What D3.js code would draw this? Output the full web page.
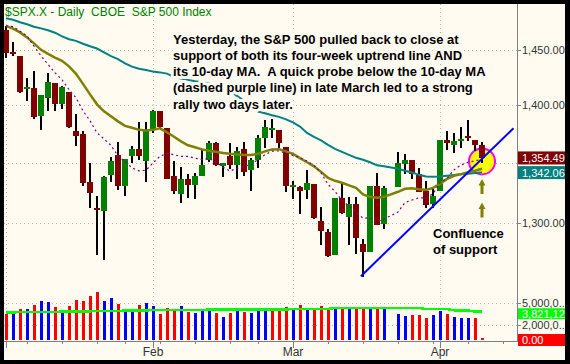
<!DOCTYPE html>
<html><head><meta charset="utf-8">
<script src="https://cdn.jsdelivr.net/npm/d3@7"></script>
<style>body{margin:0;background:#000;} svg{display:block;}</style>
</head><body>
<svg id="c" width="570" height="364"></svg>
<script>
// ---------- DATA ----------
const prevClose = 1468.36;
const opens = [1467.97,1447.55,1444.01,1414.07,1415.71,1390.25,1406.78,1419.91,1401.60,1411.88,
1377.41,1374.79,1333.90,1312.94,1310.41,1340.13,1357.32,1330.70,1355.94,1362.22,
1351.98,1378.60,1395.38,1380.28,1339.48,1324.01,1336.88,1331.92,1339.35,1353.12,
1367.33,1347.52,1355.86,1348.39,1362.21,1344.22,1352.75,1371.76,1378.95,1378.16,
1364.07,1330.45,1329.58,1327.69,1332.20,1301.53,1293.16,1274.40,1321.13,1305.26,
1316.05,1283.21,1277.16,1330.97,1299.67,null,1330.29,1349.07,1352.45,1341.02,
1327.02,1315.92,1326.41,1369.96,1365.69,1369.85,1373.69,1370.16,1365.50];
const highs = [1471.77,1456.80,1444.01,1423.87,1430.28,1409.19,1429.09,1419.91,1417.28,1411.88,
1391.99,1377.72,1350.28,1322.53,1339.09,1355.15,1368.56,1353.97,1364.93,1385.86,
1385.62,1396.02,1395.38,1380.28,1351.96,1347.16,1341.22,1341.40,1362.10,1369.23,
1368.16,1350.00,1367.28,1363.71,1367.94,1354.30,1374.36,1387.34,1388.34,1378.16,
1364.07,1335.13,1331.03,1344.19,1332.20,1313.24,1295.01,1320.65,1333.26,1321.68,
1321.47,1287.50,1330.74,1341.51,1330.67,null,1359.68,1357.47,1352.45,1345.62,
1334.87,1328.52,1370.18,1377.95,1375.66,1380.91,1386.74,1370.16,1368.39];
const lows = [1442.07,1443.73,1411.19,1403.45,1388.30,1378.70,1395.31,1394.83,1397.00,1380.60,
1364.27,1330.67,1312.51,1274.29,1270.05,1334.31,1327.50,1322.26,1350.19,1352.95,
1334.08,1375.93,1379.69,1336.64,1324.34,1316.75,1321.06,1320.32,1339.35,1350.78,
1347.31,1338.13,1345.05,1336.55,1339.34,1327.04,1346.03,1363.29,1372.00,1363.16,
1325.42,1320.04,1307.39,1320.22,1303.42,1282.43,1272.66,1274.40,1307.86,1282.11,
1274.86,1256.98,1277.16,1298.42,1295.22,null,1330.29,1341.21,1336.41,1325.66,
1312.95,1312.81,1326.41,1361.55,1358.68,1362.83,1369.02,1360.62,1349.97];
const closes = [1447.16,1447.16,1411.63,1416.18,1390.19,1409.13,1420.33,1401.02,1416.25,1380.95,
1373.20,1333.25,1325.19,1310.50,1338.60,1352.07,1330.61,1353.96,1362.30,1355.81,
1378.55,1395.42,1380.82,1336.64,1326.45,1336.91,1331.29,1339.13,1348.86,1367.21,
1348.86,1349.99,1348.78,1360.03,1342.53,1353.11,1371.80,1381.29,1380.02,1367.68,
1330.63,1331.34,1326.75,1333.70,1304.34,1293.37,1273.37,1320.65,1308.77,1315.48,
1288.14,1276.60,1330.74,1298.42,1329.51,null,1349.88,1352.99,1341.13,1325.76,
1315.22,1322.70,1370.18,1367.53,1369.31,1370.40,1372.54,1365.54,1354.49];
// volume (millions)
const volumes = [3.5,3.5,4.2,4.2,4.7,5.3,5.1,4.5,3.6,4.6,
5.4,5.3,5.9,6.5,5.3,5.7,4.9,4.1,4.2,4.7,
5.0,4.6,3.5,4.3,4.1,4.6,3.8,3.6,4.1,3.9,
3.6,3.1,3.6,3.9,3.8,3.6,3.9,4.1,3.9,3.9,
4.46,4.19,4.73,4.32,4.32,4.59,4.32,4.32,4.19,4.32,
4.32,4.32,4.32,4.19,4.32,null,3.51,3.24,3.38,3.38,
2.97,3.38,3.92,3.51,3.11,2.97,2.97,2.97,0.27];
const volMA = [3.74,3.74,3.76,3.77,3.78,3.79,3.80,3.81,3.82,3.83,
3.85,3.86,3.88,3.90,3.91,3.93,3.94,3.96,3.97,3.99,
4.00,4.05,4.05,4.06,4.06,4.07,4.07,4.08,4.08,4.09,
4.09,4.10,4.10,4.11,4.11,4.12,4.12,4.13,4.13,4.14,
4.15,4.16,4.17,4.18,4.19,4.20,4.21,4.32,4.32,4.32,
4.32,4.32,4.32,4.32,4.32,null,4.32,4.32,4.32,4.32,
4.19,4.19,4.19,4.19,4.01,4.01,4.01,3.82,3.82];
const ma10 = [1471.70,1470.91,1466.78,1462.38,1452.96,1444.22,1436.49,1428.97,1422.74,1414.00,
1406.60,1395.21,1386.57,1376.00,1370.84,1365.14,1356.16,1351.46,1346.06,1343.55,
1344.08,1350.30,1355.86,1358.48,1357.26,1355.75,1355.82,1354.33,1352.99,1354.13,
1351.16,1346.62,1343.41,1345.75,1347.36,1348.98,1353.03,1357.25,1360.36,1360.41,
1358.59,1356.72,1354.52,1351.89,1348.07,1342.09,1332.25,1326.19,1319.06,1313.84,
1309.59,1304.12,1304.52,1300.99,1303.51,null,1309.16,1317.12,1319.17,1320.87,
1320.84,1324.30,1333.65,1337.33,1344.42,1348.51,1350.78,1352.03,1353.37];
const ma20 = [1471.7,1469.1,1465.7,1461.1,1455.6,1449.7,1446.0,1442.6,1439.7,1434.7,
1428.0,1419.0,1409.7,1400.9,1394.7,1390.4,1386.0,1382.1,1380.4,1378.6,
1378.0,1378.6,1379.9,1376.5,1372.6,1368.7,1365.3,1363.6,1361.8,1360.6,
1359.7,1358.8,1358.0,1357.4,1357.1,1357.1,1358.0,1360.1,1361.8,1362.0,
1360.1,1358.0,1354.3,1350.8,1347.4,1342.7,1337.7,1335.2,1333.5,1331.4,
1329.3,1323.9,1321.8,1321.0,1321.8,null,1326.0,1328.5,1328.9,1328.1,
1327.6,1329.3,1332.6,1336.8,1339.4,1340.8,1342.3,1343.6,1345.3];
const ma50 = [1478.8,1477.3,1475.1,1473.2,1470.9,1469.4,1467.7,1465.4,1462.0,1459.4,
1457.9,1455.3,1453.0,1450.9,1447.4,1443.9,1441.3,1437.4,1434.5,1432.5,
1431.4,1430.0,1429.3,1428.2,1425.3,1423.9,1422.6,1421.4,1420.4,1419.3,
1418.1,1416.8,1412.8,1408.4,1404.0,1399.1,1394.6,1393.0,1391.4,1389.9,
1387.7,1385.1,1381.5,1376.0,1372.6,1369.6,1365.7,1362.3,1359.7,1357.1,
1354.6,1352.9,1350.8,1348.2,1347.4,null,1345.3,1343.6,1342.1,1340.2,
1338.8,1338.5,1338.8,1339.4,1340.0,1340.6,1341.2,1341.7,1342.06];
const monthTicks = [{i:0,label:""},{i:21,label:"Feb"},{i:41,label:"Mar"},{i:62,label:"Apr"}];
const weekTicks = [3,8,13,17,22,27,32,36,46,51,56,61,66,71];
const priceGrid = [1300,1350,1400,1450];
const priceLabels = [1300,1400,1450];
const volTicks = [{v:5,label:"5,000,0..."},{v:2,label:"2,000,0..."}];
const title = "$SPX.X - Daily  CBOE  S&P 500 Index";
const note = ["Yesterday, the S&P 500 pulled back to close at",
"support of both its four-week uptrend line AND",
"its 10-day MA.  A quick probe below the 10-day MA",
"(dashed purple line) in late March led to a strong",
"rally two days later."];
const note2 = ["Confluence","of support"];
const trend = [{i:50.7,v:1257.5},{i:72.5,v:1380}];
const volMALabel = "3,821,129";
const volLastLabel = "0.00";

// ---------- CHART ----------
const svg = d3.select('#c');
const W=570,H=364, cream='#fffbf0';
const font = "'Liberation Sans', Arial, sans-serif";
svg.append('rect').attr('width',W).attr('height',H).attr('fill','#000');
svg.append('rect').attr('x',4).attr('y',4).attr('width',561).attr('height',356).attr('fill',cream);

const x = d3.scaleLinear().domain([0,73]).range([6,517]);
const y = d3.scaleLog().domain([1300,1450]).range([223.3,49.5]);
const yv = d3.scaleLinear().domain([0,5]).range([340,303]);
const axisX = 517, axisY = 341;

const defs = svg.append('defs');
defs.append('clipPath').attr('id','pc').append('rect').attr('x',4).attr('y',4).attr('width',513).attr('height',284);
defs.append('clipPath').attr('id','vc').append('rect').attr('x',4).attr('y',288).attr('width',513).attr('height',53);
defs.append('clipPath').attr('id','all').append('rect').attr('x',4).attr('y',4).attr('width',561).attr('height',356);

const root = svg.append('g').attr('clip-path','url(#all)');
const grid = root.append('g').attr('stroke','#b8b8b8').attr('stroke-dasharray','1,3').attr('shape-rendering','crispEdges');
grid.selectAll('.hg').data(priceGrid).join('line')
  .attr('x1',4).attr('x2',axisX).attr('y1',d=>Math.round(y(d))+0.5).attr('y2',d=>Math.round(y(d))+0.5);
grid.selectAll('.vg').data(volTicks).join('line')
  .attr('x1',4).attr('x2',axisX).attr('y1',d=>Math.round(yv(d.v))+0.5).attr('y2',d=>Math.round(yv(d.v))+0.5);
grid.selectAll('.vgl').data(monthTicks).join('line')
  .attr('x1',d=>Math.round(x(d.i))+0.5).attr('x2',d=>Math.round(x(d.i))+0.5).attr('y1',4).attr('y2',axisY);

const idx = d3.range(closes.length).filter(i=>closes[i]!=null);

const pc = root.append('g').attr('clip-path','url(#pc)');
pc.append('circle').attr('cx',x(68)).attr('cy',y(1351.5)).attr('r',13)
  .attr('fill','#ffff00').attr('stroke','#ff00ff').attr('stroke-width',2);

const cg = pc.append('g').attr('shape-rendering','crispEdges');
cg.selectAll('.wick').data(idx).join('rect')
  .attr('x',i=>x(i)-1).attr('width',2)
  .attr('y',i=>y(highs[i])).attr('height',i=>Math.max(1,y(lows[i])-y(highs[i])))
  .attr('fill','#000');
cg.selectAll('.body').data(idx).join('rect')
  .attr('x',i=>x(i)-3).attr('width',6)
  .attr('y',i=>y(Math.max(opens[i],closes[i])))
  .attr('height',i=>Math.max(2,y(Math.min(opens[i],closes[i]))-y(Math.max(opens[i],closes[i]))))
  .attr('fill',i=>closes[i]>=opens[i]?'#008000':'#800000');

const line = arr => d3.line().x(i=>x(i)).y(i=>y(arr[i]))(d3.range(arr.length).filter(i=>arr[i]!=null));
pc.append('path').attr('d',line(ma50)).attr('fill','none').attr('stroke','#008080').attr('stroke-width',2);
pc.append('path').attr('d',line(ma20)).attr('fill','none').attr('stroke','#808000').attr('stroke-width',2.5);
pc.append('path').attr('d',line(ma10)).attr('fill','none').attr('stroke','#800080').attr('stroke-width',1.2).attr('stroke-dasharray','2,3');

pc.append('line').attr('x1',x(trend[0].i)).attr('y1',y(trend[0].v)).attr('x2',x(trend[1].i)).attr('y2',y(trend[1].v))
  .attr('stroke','#0000ff').attr('stroke-width',2);

const ax = x(68);
const cyB = y(1351.5)+13;
function arrow(top){
  const p = d3.path();
  p.moveTo(ax, top); p.lineTo(ax+3.5, top+6.5); p.lineTo(ax+1.5, top+6.5); p.lineTo(ax+1.5, top+15);
  p.lineTo(ax-1.5, top+15); p.lineTo(ax-1.5, top+6.5); p.lineTo(ax-3.5, top+6.5); p.closePath();
  return p.toString();
}
pc.append('path').attr('d',arrow(cyB+4.5)).attr('fill','#808000');
pc.append('path').attr('d',arrow(cyB+28)).attr('fill','#808000');

const vg = root.append('g').attr('clip-path','url(#vc)').attr('shape-rendering','crispEdges');
vg.selectAll('rect').data(idx).join('rect')
  .attr('x',i=>x(i)-1).attr('width',3)
  .attr('y',i=>yv(volumes[i])).attr('height',i=>yv(0)-yv(volumes[i]))
  .attr('fill',i=>{const pv = i===0?prevClose:closes[idx[idx.indexOf(i)-1]]; return closes[i]<pv?'#ff0000':'#0000ff';});
vg.append('path').attr('d',d3.line().x(i=>x(i)).y(i=>yv(volMA[i]))(d3.range(volMA.length).filter(i=>volMA[i]!=null)))
  .attr('fill','none').attr('stroke','#00ff00').attr('stroke-width',2.5);

const ag = root.append('g').attr('stroke','#808080').attr('shape-rendering','crispEdges');
ag.append('line').attr('x1',axisX+0.5).attr('x2',axisX+0.5).attr('y1',4).attr('y2',axisY+1);
ag.append('line').attr('x1',4).attr('x2',axisX).attr('y1',axisY+0.5).attr('y2',axisY+0.5);
ag.selectAll('.wt').data(weekTicks).join('line')
  .attr('x1',i=>Math.round(x(i))+0.5).attr('x2',i=>Math.round(x(i))+0.5).attr('y1',axisY).attr('y2',axisY+3);
ag.selectAll('.mt').data(monthTicks).join('line')
  .attr('x1',d=>Math.round(x(d.i))+0.5).attr('x2',d=>Math.round(x(d.i))+0.5).attr('y1',axisY).attr('y2',axisY+7);
ag.selectAll('.pt').data(priceGrid).join('line')
  .attr('x1',axisX).attr('x2',axisX+4).attr('y1',d=>Math.round(y(d))+0.5).attr('y2',d=>Math.round(y(d))+0.5);
ag.selectAll('.vt').data(volTicks).join('line')
  .attr('x1',axisX).attr('x2',axisX+4).attr('y1',d=>Math.round(yv(d.v))+0.5).attr('y2',d=>Math.round(yv(d.v))+0.5);

const fmt = d3.format(',.2f');
const tg = root.append('g').attr('font-family',font).attr('font-size',11).attr('fill','#333');
tg.selectAll('.pl').data(priceLabels).join('text').attr('x',axisX+5).attr('y',d=>y(d)+4).text(d=>fmt(d));
tg.selectAll('.vl').data(volTicks).join('text').attr('x',axisX+5).attr('y',d=>yv(d.v)+4).text(d=>d.label);
tg.selectAll('.ml').data(monthTicks).join('text').attr('x',d=>x(d.i)).attr('y',356).attr('text-anchor','middle').attr('font-size',12).text(d=>d.label);

function box(yc, fill, txt, col, h){
  root.append('rect').attr('x',axisX+1).attr('y',yc-h/2).attr('width',48).attr('height',h).attr('fill',fill);
  root.append('text').attr('x',axisX+5).attr('y',yc+4).attr('font-family',font).attr('font-size',11).attr('fill',col).text(txt);
}
box(y(closes[68]),'#800000',fmt(closes[68]),'#fff',13);
box(y(ma50[68]),'#008080',fmt(ma50[68]),'#fff',13);
box(yv(volMA[68])+2,'#00ff00',volMALabel,'#fff',11);
box(yv(0),'#ff0000',volLastLabel,'#fff',12);

root.append('text').attr('x',5).attr('y',16).attr('font-family',font).attr('font-size',12)
  .attr('fill','#008000').style('white-space','pre').text(title);

const nt = root.append('g').attr('font-family',font).attr('font-size',13).attr('font-weight','bold')
  .attr('fill','#000').attr('stroke',cream).attr('stroke-width',6).attr('stroke-linejoin','round').attr('paint-order','stroke');
nt.selectAll('text').data(note).join('text').attr('x',173).attr('y',(d,k)=>43.5+k*16.3).style('white-space','pre').text(d=>d);
const nt2 = root.append('g').attr('font-family',font).attr('font-size',13).attr('font-weight','bold').attr('fill','#000');
nt2.selectAll('text').data(note2).join('text').attr('x',433).attr('y',(d,k)=>237.5+k*16).text(d=>d);
</script>
</body></html>
